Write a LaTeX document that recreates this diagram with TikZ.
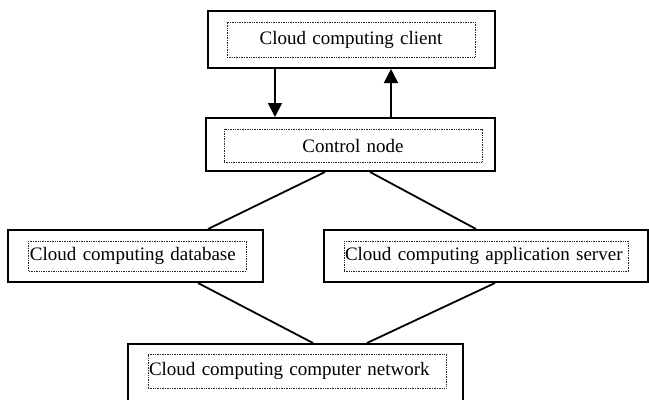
\documentclass[tikz,border=0pt]{standalone}
\usepackage{fontspec}
\setmainfont{Liberation Serif}
\usetikzlibrary{arrows.meta}
\tikzset{
  outerbox/.style={draw=black, line width=2bp, inner sep=0pt, anchor=center},
  innerbox/.style={draw=black!85, line width=1bp, dash pattern=on 1bp off 0.7bp,
    inner xsep=1bp, inner ysep=0pt, anchor=center,
    font=\fontsize{19bp}{22bp}\selectfont},
  link/.style={line width=1.8bp, black},
  flow/.style={link, -{Triangle[length=14bp,width=14bp]}}
}
\begin{document}
\begin{tikzpicture}[x=1bp,y=-1bp]
\useasboundingbox (0,0) rectangle (649,399);
\clip (0,0) rectangle (649,399);
\fill[white] (0,0) rectangle (649,399);

% outer frames
\node[outerbox, minimum width=287bp, minimum height=57bp] (client) at (351.5,39.5) {};
\node[outerbox, minimum width=289bp, minimum height=53bp] (control) at (350.5,144.5) {};
\node[outerbox, minimum width=255bp, minimum height=52bp] (db) at (135.5,256) {};
\node[outerbox, minimum width=324bp, minimum height=52bp] (app) at (486,256) {};
\node[outerbox, minimum width=335bp, minimum height=110bp] (net) at (295.5,399) {};

% dotted labels
\node[innerbox, text width=246bp, align=center, minimum height=35bp] (clientL) at (351,39.5) {Cloud computing client};
\node[innerbox, text width=256bp, align=center, minimum height=33bp] (controlL) at (353,145.5) {Control node};
\node[innerbox, text width=215bp, align=left, minimum height=30bp] (dbL) at (137.5,256) {Cloud computing database};
\node[innerbox, text width=282bp, align=left, minimum height=30bp] (appL) at (486,256) {Cloud computing application server};
\node[innerbox, text width=296bp, align=left, minimum height=34bp] (netL) at (297,371) {Cloud computing computer network};

% connector columns
\coordinate (xdown) at (275,0);
\coordinate (xup) at (391,0);
\coordinate (xc1) at (325,0);
\coordinate (xc2) at (370,0);
\coordinate (xd1) at (208,0);
\coordinate (xa1) at (476,0);
\coordinate (xd2) at (198,0);
\coordinate (xa2) at (495,0);
\coordinate (xn1) at (313,0);
\coordinate (xn2) at (367,0);

% request / response arrows
\draw[flow] (client.south -| xdown) -- (control.north -| xdown);
\draw[flow] (control.north -| xup) -- (client.south -| xup);

% links
\draw[link] (control.south -| xc1) -- (db.north -| xd1);
\draw[link] (control.south -| xc2) -- (app.north -| xa1);
\draw[link] (db.south -| xd2) -- (net.north -| xn1);
\draw[link] (app.south -| xa2) -- (net.north -| xn2);
\end{tikzpicture}
\end{document}
